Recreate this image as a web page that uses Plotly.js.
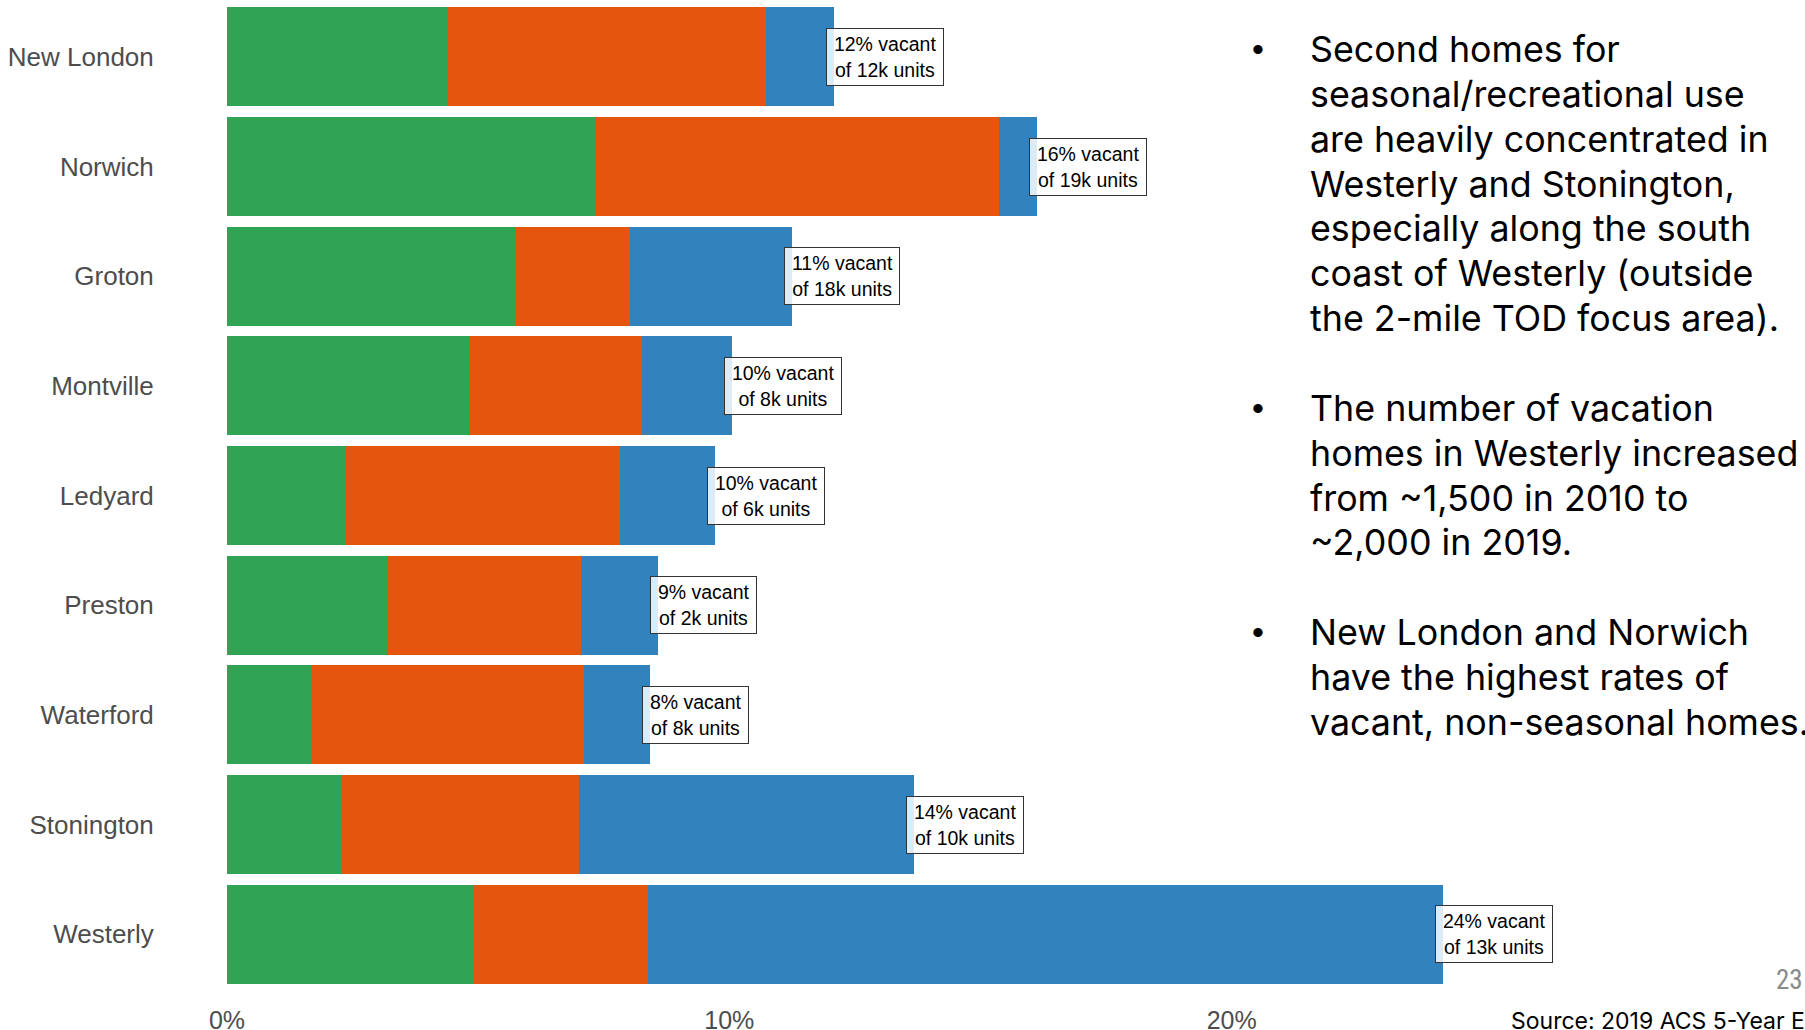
<!DOCTYPE html>
<html>
<head>
<meta charset="utf-8">
<script src="https://cdn.plot.ly/plotly-3.0.1.min.js"></script>
<style>
  html, body { margin: 0; padding: 0; background: #ffffff; }
  #chart { width: 1805px; height: 1030px; }
</style>
</head>
<body>
<div id="chart"></div>
<script>
// Vacant housing units as a share of all units, by town (percent)
const towns = ['New London', 'Norwich', 'Groton', 'Montville', 'Ledyard',
               'Preston', 'Waterford', 'Stonington', 'Westerly'];
const forRentOrSale = [4.40, 7.35, 5.73, 4.82, 2.36, 3.19, 1.70, 2.28, 4.91];
const otherVacant   = [6.33, 8.02, 2.29, 3.44, 5.46, 3.85, 5.40, 4.73, 3.47];
const seasonal      = [1.36, 0.76, 3.23, 1.80, 1.89, 1.54, 1.32, 6.66, 15.82];
const totalUnitsK   = [12, 19, 18, 8, 6, 2, 8, 10, 13];

const xTickVals = [0, 10, 20];
const xTickText = ['0%', '10%', '20%'];

// Slide commentary: one list per bullet, one entry per line
const bulletParagraphs = [
  ['Second homes for', 'seasonal/recreational use', 'are heavily concentrated in',
   'Westerly and Stonington,', 'especially along the south', 'coast of Westerly (outside',
   'the 2-mile TOD focus area).'],
  ['The number of vacation', 'homes in Westerly increased', 'from ~1,500 in 2010 to',
   '~2,000 in 2019.'],
  ['New London and Norwich', 'have the highest rates of', 'vacant, non-seasonal homes.']
];
const sourceNote = 'Source: 2019 ACS 5-Year Estimates';
const pageNumber = '23';

// Page geometry (pixels)
const W = 1805, H = 1030;
const M = { l: 227, r: 71, t: 2, b: 41 };
const plotW = W - M.l - M.r, plotH = H - M.t - M.b;
const px2x = px => (px - M.l) / plotW;
const px2y = py => 1 - (py - M.t) / plotH;

const colors = { green: '#31a354', orange: '#e6550d', blue: '#3182bd' };

function barTrace(name, values, color) {
  return {
    type: 'bar', orientation: 'h', name: name,
    x: values, y: towns,
    marker: { color: color, line: { width: 0 } },
    hoverinfo: 'x+y+name'
  };
}

const traces = [
  barTrace('For rent or sale', forRentOrSale, colors.green),
  barTrace('Other vacant', otherVacant, colors.orange),
  barTrace('Seasonal', seasonal, colors.blue)
];

const totals = towns.map((_, i) => forRentOrSale[i] + otherVacant[i] + seasonal[i]);

// Value labels at the end of each stacked bar
const thin = '\u2009';
const annotations = towns.map((t, i) => ({
  x: totals[i], y: t, xref: 'x', yref: 'y',
  xanchor: 'left', yanchor: 'middle', xshift: -8,
  text: thin + Math.round(totals[i]) + '% vacant' + thin + '<br>' +
        thin + 'of ' + totalUnitsK[i] + 'k units' + thin,
  showarrow: false, align: 'center', valign: 'middle', height: 50,
  font: { family: 'Liberation Sans, Arial, sans-serif', size: 19.5, color: '#000000' },
  bgcolor: 'rgba(255,255,255,0.84)', bordercolor: '#333333', borderwidth: 1, borderpad: 3
}));

// Bullet commentary on the right, laid out line by line
const textTop = 49, linePitch = 44.85;
const textFont = { family: 'Inter, Noto Sans, sans-serif', size: 35.8, color: '#000000' };
let lineIndex = 0;
bulletParagraphs.forEach((lines) => {
  annotations.push({
    x: px2x(1258), y: px2y(textTop + linePitch * lineIndex), xref: 'paper', yref: 'paper',
    xanchor: 'center', yanchor: 'middle', text: '\u2022', showarrow: false,
    font: { family: 'Liberation Sans, Arial, sans-serif', size: 34, color: '#000000' }
  });
  lines.forEach((line) => {
    annotations.push({
      x: px2x(1309), y: px2y(textTop + linePitch * lineIndex), xref: 'paper', yref: 'paper',
      xanchor: 'left', yanchor: 'middle', align: 'left', showarrow: false,
      text: line, borderpad: 0, font: textFont
    });
    lineIndex += 1;
  });
  lineIndex += 1; // blank line between bullets
});

annotations.push({
  x: px2x(1509), y: px2y(1021), xref: 'paper', yref: 'paper',
  xanchor: 'left', yanchor: 'middle', showarrow: false, text: sourceNote,
  font: { family: 'Inter, Noto Sans, sans-serif', size: 23, color: '#000000' }
});
annotations.push({
  x: px2x(1774), y: px2y(980), xref: 'paper', yref: 'paper',
  xanchor: 'left', yanchor: 'middle', showarrow: false, text: pageNumber,
  font: { family: 'Liberation Sans Narrow, Roboto Condensed, Liberation Sans, sans-serif', size: 27, color: '#8a8a8a' }
});

const layout = {
  width: W, height: H,
  margin: M,
  paper_bgcolor: '#ffffff', plot_bgcolor: '#ffffff',
  barmode: 'stack', bargap: 0.1,
  showlegend: false,
  xaxis: {
    range: [0, 30], fixedrange: true,
    tickmode: 'array', tickvals: xTickVals, ticktext: xTickText,
    showgrid: false, zeroline: false, showline: false,
    ticks: 'outside', ticklen: 9, tickcolor: 'rgba(0,0,0,0)',
    tickfont: { family: 'Liberation Sans, Arial, sans-serif', size: 25, color: '#4d4d4d' },
    automargin: false
  },
  yaxis: {
    type: 'category', autorange: 'reversed', fixedrange: true,
    showgrid: false, zeroline: false, showline: false,
    ticks: 'outside', ticklen: 67, tickcolor: 'rgba(0,0,0,0)',
    tickfont: { family: 'Liberation Sans, Arial, sans-serif', size: 26, color: '#4d4d4d' },
    automargin: false
  },
  annotations: annotations
};

Plotly.newPlot('chart', traces, layout, { displayModeBar: false, staticPlot: true });
</script>
</body>
</html>
